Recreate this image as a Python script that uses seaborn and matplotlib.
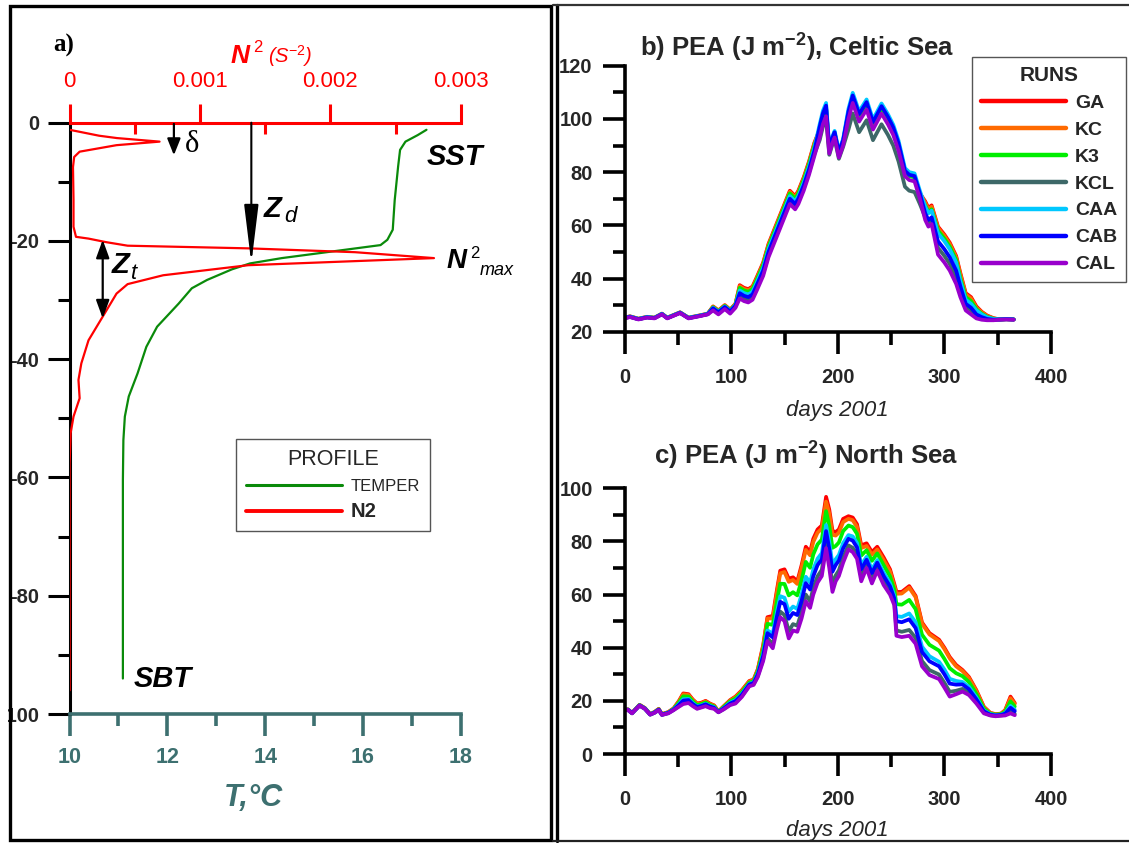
import numpy as np
import pandas as pd
import matplotlib
matplotlib.use("Agg")
import matplotlib.pyplot as plt
import seaborn as sns
from matplotlib.lines import Line2D
from matplotlib.patches import Rectangle

sns.set_style("ticks")
plt.rcParams["font.family"] = ["Liberation Sans", "DejaVu Sans"]
plt.rcParams["axes.unicode_minus"] = False
plt.rcParams["mathtext.fontset"] = "custom"
plt.rcParams["mathtext.rm"] = "Liberation Sans"
plt.rcParams["mathtext.it"] = "Liberation Sans:italic"
plt.rcParams["mathtext.bf"] = "Liberation Sans:bold"

# ---- panel a: profile (depth m, temperature C, N2 s-2)
depth_t = [-1.2, -2.1, -3.2, -4.6, -7.4, -13.1, -18.1, -19.8, -20.7, -22.9, -23.8, -24.8,
           -26.6, -28.0, -30.6, -34.5, -37.9, -42.4, -46.3, -49.7, -53.7, -60.4, -94.0]
temp = [17.30, 17.12, 16.87, 16.76, 16.72, 16.65, 16.61, 16.50, 16.36, 14.34, 13.69, 13.32,
        12.81, 12.50, 12.23, 11.79, 11.57, 11.39, 11.21, 11.13, 11.10, 11.09, 11.09]

depth_n2 = [-1.2, -2.2, -2.6, -3.2, -3.8, -4.9, -5.8, -7.5, -13.0, -17.6, -19.3, -19.6, -20.2,
            -20.8, -21.25, -21.9, -22.9, -24.1, -25.8, -27.3, -28.9, -32.8, -36.8, -40.7,
            -43.5, -46.6, -49.7, -52.5, -57.6, -96.0]
n2 = [0.0, 0.000226, 0.000363, 0.00069, 0.00036, 0.000077, 0.000035, 0.000026, 0.00003,
      0.00003, 0.000049, 0.000145, 0.00028, 0.000445, 0.00137, 0.00219, 0.002795, 0.00137,
      0.000718, 0.000445, 0.00036, 0.000254, 0.000145, 0.00009, 0.000068, 0.000077, 0.00003,
      0.000008, 0.0, 0.0]

# ---- runs
runs = ["GA", "KC", "K3", "KCL", "CAA", "CAB", "CAL"]
run_colors = ["#ff0000", "#ff6a00", "#00ee00", "#3d6868", "#00c8ff", "#0000ff", "#9900cc"]

# ---- panel b: PEA Celtic Sea
days_b = [0, 5, 13, 21, 28, 35, 40, 52, 60, 70, 78, 83, 88, 94, 99, 104, 108, 112, 116, 120,
          124, 130, 135, 140, 146, 150, 155, 160, 163, 168, 173, 178, 183, 186, 189, 192, 195,
          197, 201, 205, 210, 214, 220, 227, 233, 241, 247, 252, 257, 263, 267, 272, 277, 282,
          285, 288, 294, 300, 305, 311, 315, 320, 325, 330, 335, 340, 346, 352, 358, 365]

ga_b = [25.3, 25.8, 24.9, 25.6, 25.3, 26.8, 25.3, 27.3, 25.3, 26.1, 26.8,
        29.5, 28.0, 30.0, 28.3, 30.5,
        37.5, 36.5, 36.0, 37.0, 40.5, 46.0, 53.0, 58.0, 64.0, 68.0, 73.0, 71.0, 73.0, 78.0, 84.0, 91.0,
        96.0, 101.0, 104.0,
        88.5, 92.5, 94.5, 87.0, 91.5,
        102.0, 108.0, 101.0, 105.5, 98.0, 104.0, 100.0, 96.0, 90.0,
        80.5, 79.0, 78.5, 72.0,
        69.0, 66.5, 67.5,
        59.5, 56.5, 53.5, 48.5,
        42.0, 34.5, 33.0, 29.5, 27.5, 26.1, 25.1, 24.6, 24.7, 24.6]
kc_b = [25.2, 25.7, 24.8, 25.5, 25.2, 26.7, 25.2, 27.2, 25.2, 26.0, 26.7,
        29.4, 27.9, 29.9, 28.2, 30.4,
        37.1, 36.1, 35.6, 36.6, 40.1, 45.6, 52.6, 57.6, 63.6, 67.6, 72.6, 70.6, 72.6, 77.6, 83.6, 90.6,
        96.0, 101.0, 104.0,
        88.5, 92.5, 94.5, 87.0, 91.5,
        102.0, 108.0, 101.0, 105.5, 98.0, 104.0, 100.0, 96.0, 90.0,
        80.5, 79.0, 78.5, 72.0,
        68.5, 66.0, 67.0,
        59.0, 56.0, 53.0, 48.0,
        41.5, 34.0, 32.5, 29.0, 27.3, 25.9, 25.0, 24.6, 24.7, 24.6]
k3_b = [25.2, 25.7, 24.8, 25.5, 25.2, 26.7, 25.2, 27.2, 25.2, 26.0, 26.7,
        29.2, 27.7, 29.7, 28.0, 30.2,
        36.5, 35.5, 35.0, 36.0, 39.5, 45.0, 52.0, 57.0, 63.0, 67.0, 72.0, 70.0, 72.0, 77.0, 83.0, 90.0,
        96.0, 101.0, 104.0,
        88.5, 92.5, 94.5, 87.0, 91.5,
        102.0, 108.0, 101.0, 105.5, 98.0, 104.0, 100.0, 96.0, 90.0,
        80.0, 78.5, 78.0, 71.5,
        67.5, 65.0, 66.0,
        58.0, 55.0, 52.0, 47.0,
        40.0, 33.0, 31.5, 28.5, 26.8, 25.6, 24.9, 24.6, 24.7, 24.6]
kcl_b = [25.1, 25.6, 24.7, 25.4, 25.1, 26.6, 25.1, 27.1, 25.1, 25.9, 26.6,
         28.4, 26.9, 28.9, 27.2, 29.4,
         33.3, 32.3, 31.8, 32.8, 36.3, 41.8, 48.8, 53.8, 59.8, 63.8, 68.8, 66.8, 68.8, 73.8, 79.8, 86.8,
         92.0, 97.0, 100.0,
         86.5, 90.5, 92.5, 85.0, 89.5,
         96.0, 102.0, 95.0, 99.5, 92.0, 98.0, 94.0, 90.0, 84.0,
         74.5, 73.0, 72.5, 68.0,
         63.0, 60.5, 61.5,
         51.5, 48.5, 45.5, 40.5,
         35.0, 29.5, 28.0, 26.0, 25.1, 24.6, 24.4, 24.6, 24.7, 24.6]
caa_b = [25.2, 25.7, 24.8, 25.5, 25.2, 26.7, 25.2, 27.2, 25.2, 26.0, 26.7,
         29.0, 27.5, 29.5, 27.8, 30.0,
         35.5, 34.5, 34.0, 35.0, 38.5, 44.0, 51.0, 56.0, 62.0, 66.0, 71.0, 69.0, 71.0, 76.0, 82.0, 89.0,
         98.0, 103.0, 106.0,
         89.5, 93.5, 95.5, 88.0, 92.5,
         103.8, 109.8, 102.8, 107.3, 99.8, 105.8, 101.8, 97.8, 91.8,
         81.5, 80.0, 79.5, 73.0,
         67.0, 64.5, 65.5,
         57.0, 54.0, 51.0, 46.0,
         39.0, 32.0, 30.5, 28.0, 26.5, 25.4, 24.8, 24.6, 24.7, 24.6]
cab_b = [25.1, 25.6, 24.7, 25.4, 25.1, 26.6, 25.1, 27.1, 25.1, 25.9, 26.6,
         28.8, 27.3, 29.3, 27.6, 29.8,
         34.5, 33.5, 33.0, 34.0, 37.5, 43.0, 50.0, 55.0, 61.0, 65.0, 70.0, 68.0, 70.0, 75.0, 81.0, 88.0,
         97.0, 102.0, 105.0,
         89.0, 93.0, 95.0, 87.5, 92.0,
         102.8, 108.8, 101.8, 106.3, 98.8, 104.8, 100.8, 96.8, 90.8,
         80.5, 79.0, 78.5, 72.0,
         64.5, 62.0, 63.0,
         54.0, 51.0, 48.0, 43.0,
         37.0, 30.5, 29.0, 26.5, 25.5, 24.8, 24.5, 24.6, 24.7, 24.6]
cal_b = [25.0, 25.5, 24.6, 25.3, 25.0, 26.5, 25.0, 27.0, 25.0, 25.8, 26.5,
         28.0, 26.5, 28.5, 26.8, 29.0,
         32.5, 31.5, 31.0, 32.0, 35.5, 41.0, 48.0, 53.0, 59.0, 63.0, 68.0, 66.0, 68.0, 73.0, 79.0, 86.0,
         93.0, 98.0, 101.0,
         87.0, 91.0, 93.0, 85.5, 90.0,
         100.0, 106.0, 99.0, 103.5, 96.0, 102.0, 98.0, 94.0, 88.0,
         78.5, 77.0, 76.5, 70.0,
         62.0, 59.5, 60.5,
         49.0, 46.0, 43.0, 38.0,
         33.0, 28.0, 26.5, 25.0, 24.5, 24.3, 24.3, 24.5, 24.6, 24.5]

# ---- panel c: PEA North Sea
days_c = [0, 3, 7, 14, 19, 24, 28, 32, 35, 41, 46, 51, 55, 60, 64, 68, 72, 76, 80, 84, 88, 93,
          99, 104, 110, 117, 121, 125, 130, 134, 139, 143, 146, 150, 154, 158, 162, 166, 170,
          174, 177, 181, 185, 189, 192, 195, 198, 201, 205, 210, 214, 218, 222, 227, 232, 237,
          243, 249, 253, 255, 260, 267, 273, 279, 286, 295, 300, 305, 311, 317, 323, 330, 337,
          343, 348, 353, 357, 362, 366]

ga_c = [16.7, 16.8, 15.5, 18.5, 17.3, 15.0, 15.8, 17.0, 15.0, 15.8, 17.2, 20.0, 22.8, 22.5,
        20.5, 19.0, 19.3, 20.0, 19.0, 18.3, 16.0, 18.0, 20.3, 21.6, 24.0, 27.5, 28.0, 32.0,
        41.0, 51.5, 52.0, 62.0, 69.0, 69.5, 66.0, 66.5, 65.0, 71.0, 78.0, 76.0, 81.0, 84.5,
        86.0, 96.8, 92.0, 84.0, 83.5, 84.5, 88.5, 89.5, 89.0, 86.5, 78.5, 79.3, 76.0, 78.0,
        74.0, 69.5, 64.0, 61.0, 61.0, 63.2, 59.5, 49.5, 45.5, 43.0, 40.0, 36.5, 33.5, 31.6,
        29.0, 24.0, 17.8, 15.5, 15.0, 15.2, 16.5, 21.6, 19.2]
kc_c = [16.7, 16.8, 15.5, 18.5, 17.3, 15.0, 15.8, 16.9, 15.0, 15.7, 17.1, 19.8, 22.5, 22.2,
        20.3, 18.8, 19.1, 19.8, 18.8, 18.2, 16.0, 17.9, 20.1, 21.4, 23.8, 27.3, 27.8, 31.7,
        40.5, 51.0, 51.0, 61.0, 68.0, 68.5, 64.8, 65.5, 64.0, 70.0, 76.8, 74.8, 79.8, 83.3,
        84.8, 95.0, 90.5, 82.5, 82.2, 83.3, 87.3, 88.5, 88.0, 85.5, 77.5, 78.3, 75.0, 77.0,
        73.0, 68.7, 63.2, 60.3, 60.4, 62.6, 59.0, 49.0, 45.0, 42.5, 39.5, 36.0, 33.0, 31.2,
        28.6, 23.7, 17.6, 15.4, 14.9, 15.1, 16.3, 21.0, 18.9]
k3_c = [16.6, 16.7, 15.4, 18.4, 17.2, 14.9, 15.7, 16.8, 14.9, 15.6, 17.0, 19.4, 21.7, 21.6,
        19.8, 18.4, 18.8, 19.4, 18.5, 17.9, 15.9, 17.7, 19.8, 20.9, 23.3, 26.9, 27.4, 31.2,
        39.3, 49.0, 48.6, 57.8, 64.1, 64.0, 59.7, 60.9, 59.7, 65.4, 72.3, 70.1, 75.1, 78.9,
        80.7, 91.4, 85.8, 77.6, 78.3, 79.6, 83.9, 86.0, 85.4, 82.9, 74.7, 76.7, 72.7, 75.5,
        71.1, 66.8, 61.8, 56.4, 56.2, 58.0, 54.5, 44.9, 41.1, 38.9, 35.8, 32.3, 30.4, 29.3,
        27.1, 22.6, 17.1, 15.2, 14.8, 15.0, 15.9, 19.8, 17.9]
kcl_c = [16.5, 16.6, 15.3, 18.2, 17.0, 14.8, 15.5, 16.6, 14.7, 15.4, 16.6, 18.1, 19.3, 19.6,
         18.3, 17.2, 17.7, 18.2, 17.5, 17.2, 15.7, 16.9, 18.6, 19.3, 21.8, 25.7, 26.2, 29.4,
         35.7, 43.6, 41.3, 48.8, 53.6, 52.3, 46.2, 48.9, 48.3, 53.4, 60.0, 57.5, 62.5, 66.9,
         69.3, 79.8, 72.6, 63.8, 67.2, 69.1, 74.0, 78.5, 77.6, 75.1, 66.6, 71.1, 65.6, 70.1,
         64.8, 61.1, 57.0, 46.5, 46.0, 46.7, 43.7, 35.0, 31.6, 29.9, 26.8, 23.4, 23.8, 24.5,
         23.0, 19.6, 15.6, 14.6, 14.3, 14.5, 14.7, 16.0, 15.1]
caa_c = [16.6, 16.7, 15.4, 18.3, 17.1, 14.9, 15.6, 16.7, 14.8, 15.5, 16.8, 18.8, 20.6, 20.7,
         19.1, 17.9, 18.3, 18.9, 18.1, 17.6, 15.8, 17.3, 19.3, 20.2, 22.6, 26.4, 26.9, 30.4,
         37.7, 46.5, 45.3, 53.7, 59.4, 58.8, 53.6, 55.5, 54.6, 60.0, 66.7, 64.5, 69.5, 73.5,
         75.6, 86.2, 79.9, 71.4, 73.3, 74.9, 79.4, 82.4, 81.9, 79.4, 71.1, 74.2, 69.5, 73.0,
         68.3, 64.3, 59.6, 51.9, 51.6, 52.9, 49.6, 40.4, 36.8, 34.7, 31.8, 28.3, 27.5, 27.1,
         25.3, 21.3, 16.4, 15.0, 14.6, 14.8, 15.4, 18.1, 16.7]
cab_c = [16.6, 16.7, 15.4, 18.3, 17.1, 14.9, 15.6, 16.7, 14.8, 15.5, 16.7, 18.5, 20.1, 20.3,
         18.8, 17.7, 18.1, 18.7, 17.9, 17.4, 15.8, 17.2, 19.0, 19.9, 22.3, 26.2, 26.7, 30.0,
         37.0, 45.5, 43.9, 52.0, 57.3, 56.4, 50.9, 53.1, 52.3, 57.6, 64.3, 61.9, 66.9, 71.1,
         73.3, 83.9, 77.3, 68.6, 71.1, 72.8, 77.4, 81.0, 80.3, 77.8, 69.5, 73.1, 68.1, 72.0,
         67.0, 63.1, 58.6, 50.0, 49.6, 50.7, 47.4, 38.4, 34.9, 33.0, 30.0, 26.5, 26.1, 26.2,
         24.4, 20.6, 16.1, 14.8, 14.5, 14.7, 15.2, 17.4, 16.1]
cal_c = [16.5, 16.6, 15.3, 18.2, 17.0, 14.8, 15.5, 16.5, 14.7, 15.3, 16.5, 17.8, 18.8, 19.2,
         18.0, 17.0, 17.5, 18.0, 17.3, 17.0, 15.7, 16.8, 18.4, 19.0, 21.5, 25.5, 26.0, 29.0,
         35.0, 42.5, 39.8, 47.0, 51.5, 50.0, 43.5, 46.5, 46.0, 51.0, 57.5, 55.0, 60.0, 64.5,
         67.0, 77.5, 70.0, 61.0, 65.0, 67.0, 72.0, 77.0, 76.0, 73.5, 65.0, 70.0, 64.2, 69.0,
         63.6, 60.0, 56.0, 44.5, 44.0, 44.5, 41.5, 33.0, 29.7, 28.2, 25.0, 21.6, 22.5, 23.5,
         22.2, 19.0, 15.3, 14.5, 14.2, 14.4, 14.5, 15.3, 14.6]

W, H = 1129, 843
teal = "#3d7070"
green = "#0a8a0a"


def fx(px):
    return px / W


def fy(py):
    return 1 - py / H


def long_frame(days, series):
    return pd.DataFrame({
        "day": np.tile(days, len(runs)),
        "pea": np.concatenate(series),
        "run": np.repeat(runs, len(days)),
    })


df_b = long_frame(days_b, [ga_b, kc_b, k3_b, kcl_b, caa_b, cab_b, cal_b])
df_c = long_frame(days_c, [ga_c, kc_c, k3_c, kcl_c, caa_c, cab_c, cal_c])

fig = plt.figure(figsize=(W / 100, H / 100), dpi=100)

# ================= panel a
axT = fig.add_axes([fx(69.6), fy(714), (460.7 - 69.6) / W, (714 - 122.7) / H])
sns.lineplot(x=temp, y=depth_t, sort=False, estimator=None, color=green, linewidth=1.6, ax=axT)
axT.set_xlim(10, 18)
axT.set_ylim(-100, 0)
for s in ["top", "right"]:
    axT.spines[s].set_visible(False)
axT.spines["left"].set_linewidth(2.2)
axT.spines["left"].set_color("black")
axT.spines["bottom"].set_linewidth(2.6)
axT.spines["bottom"].set_color(teal)
axT.set_xticks([10, 12, 14, 16, 18], ["10", "12", "14", "16", "18"], fontweight="bold")
axT.set_xticks([11, 13, 15, 17], minor=True)
axT.set_yticks([-100, -80, -60, -40, -20, 0], ["-100", "-80", "-60", "-40", "-20", "0"],
               fontweight="bold")
axT.set_yticks([-90, -70, -50, -30, -10], minor=True)
axT.tick_params(axis="x", which="major", length=16, width=2.6, color=teal, labelcolor=teal,
                labelsize=15.5, pad=8)
axT.tick_params(axis="x", which="minor", length=8.5, width=2.6, color=teal)
axT.tick_params(axis="y", which="major", length=16, width=2.2, color="black", labelsize=14.5, pad=6)
axT.tick_params(axis="y", which="minor", length=8.5, width=2.2, color="black")
axT.set_xlabel("T,°C", fontsize=22, fontweight="bold", fontstyle="italic", color=teal)
axT.xaxis.set_label_coords(0.47, -0.117)
axT.set_ylabel("")

axN = axT.twiny()
sns.lineplot(x=n2, y=depth_n2, sort=False, estimator=None, color="red", linewidth=1.6, ax=axN)
axN.set_xlim(0, 0.003)
axT.set_ylim(-100, 0)
for s in ["left", "right", "bottom"]:
    axN.spines[s].set_visible(False)
axN.spines["top"].set_color("red")
axN.spines["top"].set_linewidth(2.2)
axN.set_xticks([0, 0.001, 0.002, 0.003], ["0", "0.001", "0.002", "0.003"])
axN.set_xticks([0.0005, 0.0015, 0.0025], minor=True)
axN.tick_params(axis="x", which="major", direction="out", length=14, width=2.2, color="red",
                labelcolor="red", labelsize=16, pad=8)
axN.tick_params(axis="x", which="minor", direction="in", length=8, width=2.2, color="red")
axN.set_xlabel("")
axN.set_ylabel("")

# arrows
axN.annotate("", xy=(0.001394, -23.8), xytext=(0.001394, 0.0),
             arrowprops=dict(arrowstyle="-|>,head_length=1.8,head_width=0.22", color="black",
                             lw=1.5, shrinkA=0, shrinkB=0, mutation_scale=20))
axN.annotate("", xy=(0.0008, -5.5), xytext=(0.0008, -0.2),
             arrowprops=dict(arrowstyle="-|>,head_length=0.5,head_width=0.2", color="black",
                             lw=1.6, shrinkA=0, shrinkB=0, mutation_scale=20))
axN.annotate("", xy=(0.000254, -33.1), xytext=(0.000254, -19.8),
             arrowprops=dict(arrowstyle="<|-|>,head_length=0.55,head_width=0.2", color="black",
                             lw=1.6, shrinkA=0, shrinkB=0, mutation_scale=20))

leg_a = axT.legend([Line2D([], [], color=green, lw=2.2), Line2D([], [], color="red", lw=2.8)],
                   ["TEMPER", "N2"], title="PROFILE", loc="upper left",
                   bbox_to_anchor=(fx(236), fy(439.3)), bbox_transform=fig.transFigure,
                   borderaxespad=0, fontsize=12, title_fontsize=15.5, frameon=True, fancybox=False,
                   edgecolor="#555555", framealpha=1, borderpad=0.6, handlelength=5.76,
                   handletextpad=0.54, labelspacing=0.5)
leg_a.get_frame().set_linewidth(1.0)
leg_a.get_texts()[1].set_fontweight("bold")
leg_a.get_texts()[1].set_fontsize(14.5)

# panel a labels
red_kw = dict(color="red", va="baseline", ha="left")
fig.text(fx(231), fy(63.3), "N", fontsize=19, fontweight="bold", fontstyle="italic", **red_kw)
fig.text(fx(253), fy(52), "2", fontsize=12, **red_kw)
fig.text(fx(268), fy(62.5), r"(S$^{\mathit{-2}}$)", fontsize=14.5, fontstyle="italic", **red_kw)

bk = dict(color="black", va="baseline", ha="left")
fig.text(fx(53), fy(51.7), "a)", fontsize=18, fontweight="bold", family="Liberation Serif", **bk)
fig.text(fx(185), fy(151.7), "δ", fontsize=22, family="Liberation Serif", **bk)
fig.text(fx(264), fy(217), "Z", fontsize=21, fontweight="bold", fontstyle="italic", **bk)
fig.text(fx(284), fy(222.5), "d", fontsize=16, fontstyle="italic", **bk)
fig.text(fx(112), fy(273), "Z", fontsize=21, fontweight="bold", fontstyle="italic", **bk)
fig.text(fx(131), fy(279), "t", fontsize=16, fontstyle="italic", **bk)
fig.text(fx(427), fy(165), "SST", fontsize=21, fontweight="bold", fontstyle="italic", **bk)
fig.text(fx(134), fy(686.7), "SBT", fontsize=21, fontweight="bold", fontstyle="italic", **bk)
fig.text(fx(447), fy(268), "N", fontsize=20, fontweight="bold", fontstyle="italic", **bk)
fig.text(fx(470), fy(258), "2", fontsize=12, **bk)
fig.text(fx(480), fy(275), "max", fontsize=13, fontstyle="italic", **bk)

# ================= panels b and c
def pea_panel(ax, df, ylim, yticks, yminor, title, tx, ty, label_y):
    sns.lineplot(data=df, x="day", y="pea", hue="run", hue_order=runs, palette=run_colors,
                 linewidth=2.7, estimator=None, legend=False, ax=ax)
    ax.set_xlim(0, 400)
    ax.set_ylim(*ylim)
    sns.despine(ax=ax)
    for s in ["left", "bottom"]:
        ax.spines[s].set_linewidth(2.6)
        ax.spines[s].set_color("black")
    ax.set_xticks([0, 100, 200, 300, 400], ["0", "100", "200", "300", "400"], fontweight="bold")
    ax.set_xticks([50, 150, 250, 350], minor=True)
    ax.set_yticks(yticks, [str(v) for v in yticks], fontweight="bold")
    ax.set_yticks(yminor, minor=True)
    ax.tick_params(which="major", length=16, width=2.6, color="black", labelsize=14.5)
    ax.tick_params(which="minor", length=9, width=2.6, color="black")
    ax.tick_params(axis="x", pad=10)
    ax.tick_params(axis="y", pad=7)
    ax.set_ylabel("")
    ax.set_xlabel("days 2001", fontsize=16, fontstyle="italic")
    ax.xaxis.set_label_coords(0.5, label_y)
    ax.set_title(title, fontsize=18.5, fontweight="bold", x=tx, y=ty, pad=0)


axb = fig.add_axes([fx(624.6), fy(331.7), 426.4 / W, 266 / H])
pea_panel(axb, df_b, (20, 120), [20, 40, 60, 80, 100, 120], [30, 50, 70, 90, 110],
          r"b) PEA (J m$^{\mathbf{-2}}$), Celtic Sea", 0.404, 1.034, -0.257)

axc = fig.add_axes([fx(624.6), fy(754), 426.4 / W, 265.7 / H])
pea_panel(axc, df_c, (0, 100), [0, 20, 40, 60, 80, 100], [10, 30, 50, 70, 90],
          r"c) PEA (J m$^{\mathbf{-2}}$) North Sea", 0.425, 1.088, -0.248)

leg_b = axb.legend([Line2D([], [], color=c, lw=3.2) for c in run_colors], runs, title="RUNS",
                   loc="upper left", bbox_to_anchor=(fx(972), fy(57)),
                   bbox_transform=fig.transFigure, borderaxespad=0, prop={"size": 14, "weight": "bold"},
                   title_fontproperties={"size": 15, "weight": "bold"}, frameon=True,
                   fancybox=False, edgecolor="#555555", framealpha=1, borderpad=0.45,
                   handlelength=4.4, handletextpad=0.45, labelspacing=0.48)
leg_b.get_frame().set_linewidth(1.0)

# ================= frames around the panels
fig.add_artist(Rectangle((0, 0), fx(8), 1, transform=fig.transFigure, facecolor="white",
                         edgecolor="none", zorder=20))
fig.add_artist(Rectangle((fx(10), fy(840)), fx(551) - fx(10), fy(6) - fy(840),
                         transform=fig.transFigure, facecolor="none", edgecolor="black",
                         lw=2.4, zorder=21))
fig.add_artist(Line2D([fx(557), fx(557)], [fy(5), fy(841)], transform=fig.transFigure,
                      color="black", lw=2.4, zorder=21))
fig.add_artist(Line2D([fx(553), 1], [fy(5), fy(5)], transform=fig.transFigure,
                      color="#333333", lw=1.6, zorder=21))
fig.add_artist(Line2D([fx(553), 1], [fy(840.5), fy(840.5)], transform=fig.transFigure,
                      color="#222222", lw=1.6, zorder=21))

fig.savefig("out.png", dpi=100)
